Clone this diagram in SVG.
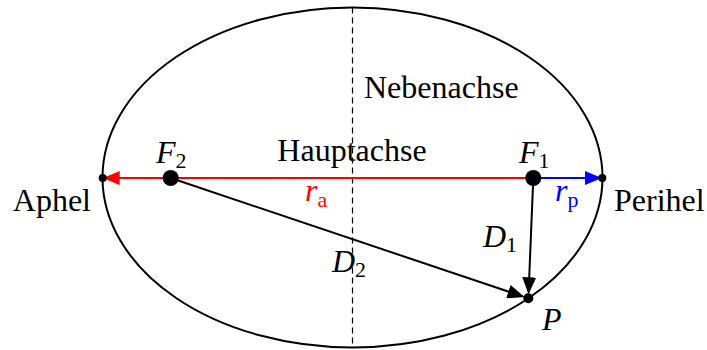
<svg xmlns="http://www.w3.org/2000/svg" width="707" height="350" viewBox="0 0 707 350">
<style>
text{font-family:"Liberation Serif","Times New Roman",serif;font-size:32px;fill:#000}
.it{font-style:italic}
.sub{font-size:22px;font-style:normal}
.dot{fill:#000}
.conn{fill:none;stroke-width:2}
</style>
<defs>
<marker id="ab" viewBox="0 0 17 14" refX="15" refY="7" markerWidth="17" markerHeight="14" orient="auto" markerUnits="userSpaceOnUse"><path d="M0,0 L17,7 L0,14 Z" fill="#000"/></marker>
<marker id="ar" viewBox="0 0 17 14" refX="15" refY="7" markerWidth="17" markerHeight="14" orient="auto" markerUnits="userSpaceOnUse"><path d="M0,0 L17,7 L0,14 Z" fill="#f00"/></marker>
<marker id="au" viewBox="0 0 17 14" refX="15" refY="7" markerWidth="17" markerHeight="14" orient="auto" markerUnits="userSpaceOnUse"><path d="M0,0 L17,7 L0,14 Z" fill="#00f"/></marker>
</defs>
<g id="axes">
<line x1="352.5" y1="7.5" x2="352.5" y2="347.5" stroke="#000" stroke-width="1.2" stroke-dasharray="6 4"/>
<ellipse cx="352.5" cy="177.5" rx="250" ry="170" fill="none" stroke="#000" stroke-width="2"/>
<text x="364" y="98">Nebenachse</text>
<text x="352" y="161" text-anchor="middle">Hauptachse</text>
</g>
<g id="connectors">
<line class="conn" x1="533.3" y1="178" x2="104.7" y2="178" stroke="#f00" marker-end="url(#ar)"/>
<line class="conn" x1="533.3" y1="178" x2="599.7" y2="178" stroke="#00f" marker-end="url(#au)"/>
<line class="conn" x1="533.3" y1="178" x2="528.6" y2="292.3" stroke="#000" marker-end="url(#ab)"/>
<line class="conn" x1="170.7" y1="178" x2="522.6" y2="296.4" stroke="#000" marker-end="url(#ab)"/>
<text x="305" y="201" fill="#f00" style="fill:#f00"><tspan class="it">r</tspan><tspan class="sub" dy="6">a</tspan></text>
<text x="555" y="201" style="fill:#00f"><tspan class="it">r</tspan><tspan class="sub" dy="6">p</tspan></text>
<text x="483" y="247"><tspan class="it">D</tspan><tspan class="sub" dy="5">1</tspan></text>
<text x="332" y="272"><tspan class="it">D</tspan><tspan class="sub" dy="5">2</tspan></text>
</g>
<g id="F2">
<circle class="dot" cx="170.7" cy="178" r="8"/>
<text x="156" y="163"><tspan class="it">F</tspan><tspan class="sub" dy="5">2</tspan></text>
</g>
<g id="F1">
<circle class="dot" cx="533.3" cy="178" r="8"/>
<text x="519" y="163"><tspan class="it">F</tspan><tspan class="sub" dy="5">1</tspan></text>
</g>
<g id="Aphel">
<circle class="dot" cx="102.7" cy="178" r="4"/>
<text x="91" y="211" text-anchor="end">Aphel</text>
</g>
<g id="Perihel">
<circle class="dot" cx="602.3" cy="178" r="4"/>
<text x="614" y="211">Perihel</text>
</g>
<g id="P">
<circle class="dot" cx="528.3" cy="298.3" r="5"/>
<text x="542" y="330" class="it">P</text>
</g>
</svg>
